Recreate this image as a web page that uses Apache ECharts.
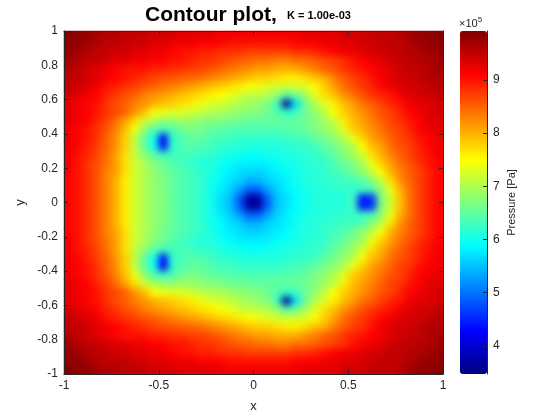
<!DOCTYPE html>
<html><head><meta charset="utf-8">
<style>html,body{margin:0;background:#fff}#c{width:560px;height:420px}
canvas[data-zr-dom-id="zr_-1"]{filter:blur(3.5px);clip-path:inset(31px 117px 46px 64px)}</style>
<script src="https://cdn.jsdelivr.net/npm/echarts@6/dist/echarts.min.js"></script>
</head><body><div id="c"></div>
<script>
// cell centres, x from left, y from top (row order of pressure)
const xCells=[-.975,-.925,-.875,-.825,-.775,-.725,-.675,-.625,-.575,-.525,-.475,-.425,-.375,-.325,-.275,-.225,-.175,-.125,-.075,-.025,.025,.075,.125,.175,.225,.275,.325,.375,.425,.475,.525,.575,.625,.675,.725,.775,.825,.875,.925,.975];
const yCells=[.975,.925,.875,.825,.775,.725,.675,.625,.575,.525,.475,.425,.375,.325,.275,.225,.175,.125,.075,.025,-.025,-.075,-.125,-.175,-.225,-.275,-.325,-.375,-.425,-.475,-.525,-.575,-.625,-.675,-.725,-.775,-.825,-.875,-.925,-.975];
// pressure, in units of 1e4 Pa
const pressure=[
[99,98,98,97,96,96,95,95,95,94,94,94,93,93,93,93,92,92,92,92,92,92,92,92,92,93,93,93,93,94,94,94,95,95,95,96,97,98,98,99],
[98,98,97,96,95,95,95,94,94,93,93,92,92,92,91,91,91,90,90,90,90,90,90,90,91,91,91,92,92,93,93,94,94,95,95,95,96,97,98,98],
[98,97,96,95,95,94,94,93,93,92,92,91,90,90,89,89,88,88,88,87,87,87,87,87,88,88,89,90,91,92,92,93,94,94,95,95,96,96,97,98],
[97,96,95,95,94,93,93,92,92,91,91,90,90,89,88,88,87,86,85,85,84,84,83,83,84,84,85,86,87,88,90,91,92,93,94,95,95,96,96,97],
[96,95,94,93,92,91,90,90,90,89,89,88,88,87,87,86,85,84,83,82,81,81,80,80,80,82,83,85,86,88,89,90,91,92,93,94,95,95,96,97],
[95,95,94,93,92,91,90,89,88,87,86,86,85,85,84,83,82,81,80,79,78,78,77,76,76,77,79,80,83,85,87,88,90,92,93,94,94,95,96,96],
[95,94,93,92,90,89,88,87,86,85,84,83,82,81,80,79,78,77,76,75,74,73,72,72,72,73,75,78,81,84,86,88,89,91,92,93,94,94,95,96],
[94,93,92,91,89,88,86,85,83,82,81,80,79,78,77,76,75,74,72,71,71,70,68,64,66,69,73,77,79,82,84,86,88,89,90,92,93,94,94,95],
[93,92,91,90,88,86,85,83,82,80,79,78,77,76,74,73,72,71,70,69,68,67,63,36,57,66,70,73,76,79,81,84,85,87,89,90,92,93,93,94],
[93,92,91,90,88,87,85,82,79,75,74,73,73,72,71,70,70,69,68,68,67,66,64,62,63,66,68,71,75,78,80,82,84,86,87,89,91,92,93,94],
[93,92,91,89,87,84,81,77,72,70,68,68,69,68,68,67,67,66,66,65,65,65,65,65,65,66,67,69,71,76,79,81,83,85,87,88,90,91,93,93],
[92,91,90,88,86,83,79,74,68,64,63,64,66,67,66,65,65,64,64,64,64,64,64,64,65,65,67,68,70,73,78,80,82,84,86,87,89,91,92,93],
[92,91,90,88,85,82,78,71,65,60,42,62,64,65,65,64,63,63,62,62,62,62,62,63,63,64,65,66,68,70,74,78,81,83,85,87,88,90,91,92],
[92,91,89,87,85,82,78,71,65,60,44,62,64,64,64,63,62,62,61,61,61,61,61,61,62,62,63,65,66,68,70,75,79,81,84,86,87,89,91,92],
[92,90,89,87,84,81,77,71,68,65,63,63,63,63,62,62,61,60,60,59,59,60,60,61,61,62,62,63,65,67,69,72,77,80,83,85,87,89,90,92],
[92,90,88,86,84,81,77,72,70,67,66,64,63,62,61,61,60,59,58,58,58,58,59,60,60,61,62,62,64,65,67,69,74,78,81,84,86,88,90,91],
[91,90,88,86,83,81,77,72,70,68,66,65,64,63,62,61,59,58,57,56,56,57,58,59,60,61,61,62,63,64,66,68,71,75,80,83,85,87,89,91],
[91,90,88,86,83,80,76,72,70,68,67,65,64,63,62,60,59,57,56,54,54,56,57,58,60,61,61,62,62,63,63,64,67,71,77,82,85,87,89,91],
[91,90,88,86,83,80,76,72,70,68,67,65,64,63,62,60,58,56,53,49,49,53,56,58,59,60,61,61,62,62,62,63,64,68,74,80,84,87,89,91],
[91,90,88,86,83,80,76,72,70,68,67,65,64,63,62,60,57,55,49,37,37,49,55,57,59,60,61,61,61,61,63,44,46,67,72,79,84,87,89,91],
[91,90,88,86,83,80,76,72,70,68,67,65,64,63,62,60,57,55,49,37,37,49,55,57,59,60,61,61,61,61,63,44,46,67,72,79,84,87,89,91],
[91,90,88,86,83,80,76,72,70,68,67,65,64,63,62,60,58,56,53,49,49,53,56,58,59,60,61,61,62,62,62,63,64,68,74,80,84,87,89,91],
[91,90,88,86,83,80,76,72,70,68,67,65,64,63,62,60,59,57,56,54,54,56,57,58,60,61,61,62,62,63,63,64,67,71,77,82,85,87,89,91],
[91,90,88,86,83,81,77,72,70,68,66,65,64,63,62,61,59,58,57,56,56,57,58,59,60,61,61,62,63,64,66,68,71,75,80,83,85,87,89,91],
[92,90,88,86,84,81,77,72,70,67,66,64,63,62,61,61,60,59,58,58,58,58,59,60,60,61,62,62,64,65,67,69,74,78,81,84,86,88,90,91],
[92,90,89,87,84,81,77,71,68,65,63,63,63,63,62,62,61,60,60,59,59,60,60,61,61,62,62,63,65,67,69,72,77,80,83,85,87,89,90,92],
[92,91,89,87,85,82,78,71,65,60,44,62,64,64,64,63,62,62,61,61,61,61,61,61,62,62,63,65,66,68,70,75,79,81,84,86,87,89,91,92],
[92,91,90,88,85,82,78,71,65,60,42,62,64,65,65,64,63,63,62,62,62,62,62,63,63,64,65,66,68,70,74,78,81,83,85,87,88,90,91,92],
[92,91,90,88,86,83,79,74,68,64,63,64,66,67,66,65,65,64,64,64,64,64,64,64,65,65,67,68,70,73,78,80,82,84,86,87,89,91,92,93],
[93,92,91,89,87,84,81,77,72,70,68,68,69,68,68,67,67,66,66,65,65,65,65,65,65,66,67,69,71,76,79,81,83,85,87,88,90,91,93,93],
[93,92,91,90,88,87,85,82,79,75,74,73,73,72,71,70,70,69,68,68,67,66,64,62,63,66,68,71,75,78,80,82,84,86,87,89,91,92,93,94],
[93,92,91,90,88,86,85,83,82,80,79,78,77,76,74,73,72,71,70,69,68,67,63,36,57,66,70,73,76,79,81,84,85,87,89,90,92,93,93,94],
[94,93,92,91,89,88,86,85,83,82,81,80,79,78,77,76,75,74,72,71,71,70,68,64,66,69,73,77,79,82,84,86,88,89,90,92,93,94,94,95],
[95,94,93,92,90,89,88,87,86,85,84,83,82,81,80,79,78,77,76,75,74,73,72,72,72,73,75,78,81,84,86,88,89,91,92,93,94,94,95,96],
[95,95,94,93,92,91,90,89,88,87,86,86,85,85,84,83,82,81,80,79,78,78,77,76,76,77,79,80,83,85,87,88,90,92,93,94,94,95,96,96],
[96,95,94,93,92,91,90,90,90,89,89,88,88,87,87,86,85,84,83,82,81,81,80,80,80,82,83,85,86,88,89,90,91,92,93,94,95,95,96,97],
[97,96,95,95,94,93,93,92,92,91,91,90,90,89,88,88,87,86,85,85,84,84,83,83,84,84,85,86,87,88,90,91,92,93,94,95,95,96,96,97],
[98,97,96,95,95,94,94,93,93,92,92,91,90,90,89,89,88,88,88,87,87,87,87,87,88,88,89,90,91,92,92,93,94,94,95,95,96,96,97,98],
[98,98,97,96,95,95,95,94,94,93,93,92,92,92,91,91,91,90,90,90,90,90,90,90,91,91,91,92,92,93,93,94,94,95,95,95,96,97,98,98],
[99,98,98,97,96,96,95,95,95,94,94,94,93,93,93,93,92,92,92,92,92,92,92,92,92,93,93,93,93,94,94,94,95,95,95,96,97,98,98,99]
];
const barTicks=[4,5,6,7,8,9];
const jet=['#000080','#0000ff','#0080ff','#00ffff','#80ff80','#ffff00','#ff8000','#ff0000','#800000'];

const ink='#262626', font='"Liberation Sans",Arial,sans-serif';
const cells=[];
pressure.forEach((row,j)=>row.forEach((v,i)=>cells.push([i,yCells.length-1-j,v])));
const hiddenCat=(g,data)=>({type:'category',gridIndex:g,data,show:false,boundaryGap:true});
const frameAxis=(extra)=>Object.assign({type:'value',gridIndex:0,min:-1,max:1,z:5,
  splitLine:{show:false},
  axisLine:{show:true,onZero:false,lineStyle:{color:ink,width:1}},
  axisTick:{show:true,inside:true,length:4,lineStyle:{color:ink,width:1}},
  axisLabel:{show:true,color:ink,fontSize:12,fontFamily:font,margin:6,hideOverlap:false,showMinLabel:true,showMaxLabel:true}},extra);
const heat=(zlevel)=>({type:'heatmap',xAxisIndex:0,yAxisIndex:0,data:cells,progressive:0,zlevel,itemStyle:{borderWidth:0},emphasis:{disabled:true},silent:true});
const chart=echarts.init(document.getElementById('c'),null,{renderer:'canvas'});
chart.setOption({
  animation:false,
  title:[
    {text:'Contour plot,',left:145,top:5,padding:0,textStyle:{fontSize:21,fontWeight:'bold',color:'#000',fontFamily:font}},
    {text:'K = 1.00e-03',left:287,top:10,padding:0,textStyle:{fontSize:11,fontWeight:'bold',color:'#000',fontFamily:font}},
    {text:'{a|×10}{b|5}',left:459,top:15,padding:0,textStyle:{fontWeight:'normal',rich:{a:{fontSize:11,fontWeight:'normal',color:ink,fontFamily:font,padding:[3,0,0,0]},b:{fontSize:8,fontWeight:'normal',color:ink,fontFamily:font,padding:[0,0,5,0]}}}}
  ],
  grid:[{left:64,top:31,width:379,height:343},{left:460,top:31,width:27,height:343}],
  xAxis:[
    hiddenCat(0,xCells),
    frameAxis({position:'bottom',interval:.5,name:'x',nameLocation:'middle',nameGap:26,nameTextStyle:{color:ink,fontSize:13,fontFamily:font}}),
    frameAxis({position:'top',interval:.5,axisLabel:{show:false}}),
    {type:'value',gridIndex:1,show:false,min:0,max:1}
  ],
  yAxis:[
    hiddenCat(0,yCells.slice().reverse()),
    frameAxis({position:'left',interval:.2,name:'y',nameLocation:'middle',nameGap:34,nameTextStyle:{color:ink,fontSize:13,fontFamily:font}}),
    frameAxis({position:'right',interval:.2,axisLabel:{show:false}}),
    {type:'value',gridIndex:1,position:'right',min:3.47,max:9.92,z:5,
     name:'Pressure [Pa]',nameLocation:'middle',nameGap:19,nameRotate:90,nameTextStyle:{color:ink,fontSize:11,fontFamily:font},
     splitLine:{show:false},
     axisLine:{show:true,onZero:false,lineStyle:{color:ink}},
     axisTick:{show:true,inside:true,length:4,customValues:barTicks,lineStyle:{color:ink}},
     axisLabel:{show:true,color:ink,fontSize:12,fontFamily:font,margin:6,customValues:barTicks}}
  ],
  visualMap:{type:'continuous',seriesIndex:[0,1],min:34.7,max:99.2,show:true,calculable:false,left:460,top:31,padding:0,
    itemWidth:27,itemHeight:343,text:null,showLabel:false,inRange:{color:jet},textStyle:{fontSize:0}},
  series:[heat(-2),heat(-1)]
});
</script></body></html>
